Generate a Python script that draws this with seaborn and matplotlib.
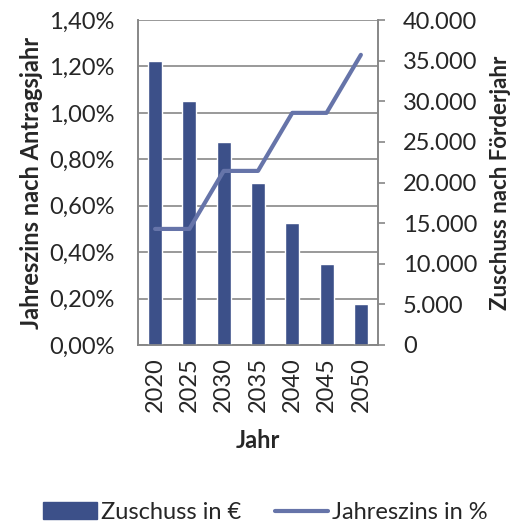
import matplotlib
matplotlib.use("Agg")
import matplotlib.pyplot as plt
from matplotlib.ticker import FuncFormatter, MultipleLocator
from matplotlib.patches import Patch
from matplotlib.lines import Line2D
import seaborn as sns

years = ["2020", "2025", "2030", "2035", "2040", "2045", "2050"]
zuschuss = [35000, 30000, 25000, 20000, 15000, 10000, 5000]
jahreszins = [0.50, 0.50, 0.75, 0.75, 1.00, 1.00, 1.25]

bar_color = "#3C5089"
line_color = "#6674A9"
grid_color = "#878787"

sns.set_theme(style="white")
plt.rcParams["font.family"] = ["Lato", "DejaVu Sans"]

fig = plt.figure(figsize=(5.16, 5.31), dpi=100)
ax = fig.add_axes([0.2674, 0.3503, 0.4652, 0.612])
ax2 = ax.twinx()
ax3 = ax.twinx()

# bars on the right axis
sns.barplot(x=years, y=zuschuss, color=bar_color, width=0.41, saturation=1,
            ax=ax2, zorder=2)
ax2.set_ylim(0, 40000)
ax2.yaxis.set_major_locator(MultipleLocator(5000))
ax2.yaxis.set_major_formatter(FuncFormatter(lambda v, p: f"{int(v):,}".replace(",", ".")))
ax2.set_ylabel("Zuschuss nach Förderjahr", fontsize=16, fontweight="bold", labelpad=9)
ax2.tick_params(axis="y", labelsize=17, length=5, width=1.2, color=grid_color, pad=13, right=True)
ax2.set_xlabel("")

# line on the left axis scale
sns.pointplot(x=years, y=jahreszins, color=line_color, markers="", linestyles="-",
              linewidth=3, ax=ax3)
ax3.set_ylim(0, 1.4)
ax3.axis("off")

ax.set_ylim(0, 1.4)
ax.set_xlim(-0.5, 6.5)
ax.yaxis.set_major_locator(MultipleLocator(0.2))
ax.yaxis.set_major_formatter(FuncFormatter(lambda v, p: f"{v:.2f}%".replace(".", ",")))
ax.grid(axis="y", color=grid_color, linewidth=1.2)
ax.set_ylabel("Jahreszins nach Antragsjahr", fontsize=17, fontweight="bold", labelpad=4)
ax.tick_params(axis="y", labelsize=17, length=0, pad=17)
ax.set_xticks(range(len(years)))
ax.set_xticklabels(years, rotation=90, fontsize=17)
ax.tick_params(axis="x", length=0, pad=9, labelbottom=True)
ax.set_xlabel("Jahr", fontsize=17, fontweight="bold", labelpad=12)

for a in (ax, ax2):
    for side in ("left", "right", "bottom"):
        a.spines[side].set_color(grid_color)
        a.spines[side].set_linewidth(1.2)
    a.spines["top"].set_visible(False)

handles = [Patch(color=bar_color), Line2D([0], [0], color=line_color, lw=3)]
fig.legend(handles, ["Zuschuss in €", "Jahreszins in %"], loc="lower center",
           bbox_to_anchor=(0.515, -0.025), ncol=2, frameon=False, fontsize=17,
           handlelength=2.25, handletextpad=0.2, columnspacing=1.4)

fig.savefig("out.png", dpi=100)
